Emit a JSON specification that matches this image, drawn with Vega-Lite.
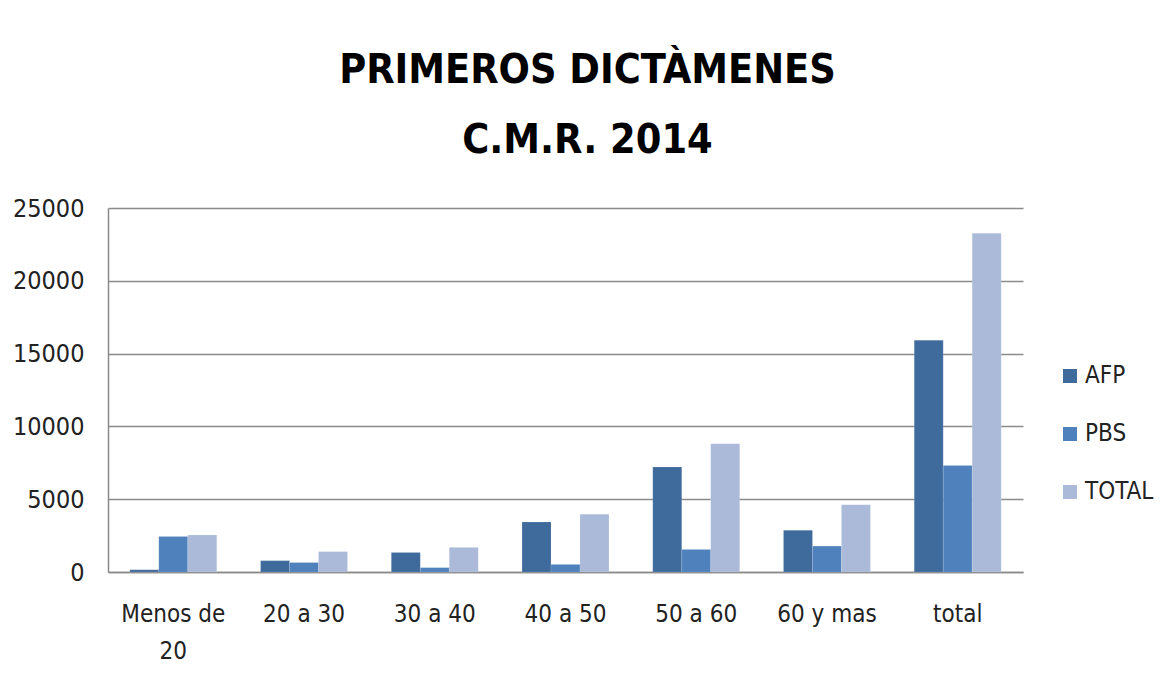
{
  "$schema": "https://vega.github.io/schema/vega-lite/v6.json",
  "autosize": {"type": "none"},
  "width": 915,
  "height": 364,
  "padding": {"left": 108, "top": 208, "right": 152, "bottom": 120},
  "background": "white",
  "title": {
    "text": ["PRIMEROS DICTÀMENES", "C.M.R. 2014"],
    "font": "Liberation Sans Narrow, DejaVu Sans Condensed, sans-serif",
    "fontSize": 41,
    "fontWeight": "bold",
    "color": "#000000",
    "anchor": "middle",
    "lineHeight": 70,
    "offset": 34,
    "dx": 22
  },
  "data": {
    "values": [
      {"grupo": "Menos de 20", "serie": "AFP", "valor": 160},
      {"grupo": "Menos de 20", "serie": "PBS", "valor": 2430},
      {"grupo": "Menos de 20", "serie": "TOTAL", "valor": 2540},
      {"grupo": "20 a 30", "serie": "AFP", "valor": 780},
      {"grupo": "20 a 30", "serie": "PBS", "valor": 650},
      {"grupo": "20 a 30", "serie": "TOTAL", "valor": 1400},
      {"grupo": "30 a 40", "serie": "AFP", "valor": 1340},
      {"grupo": "30 a 40", "serie": "PBS", "valor": 300},
      {"grupo": "30 a 40", "serie": "TOTAL", "valor": 1690},
      {"grupo": "40 a 50", "serie": "AFP", "valor": 3430},
      {"grupo": "40 a 50", "serie": "PBS", "valor": 520},
      {"grupo": "40 a 50", "serie": "TOTAL", "valor": 3970},
      {"grupo": "50 a 60", "serie": "AFP", "valor": 7210},
      {"grupo": "50 a 60", "serie": "PBS", "valor": 1550},
      {"grupo": "50 a 60", "serie": "TOTAL", "valor": 8810},
      {"grupo": "60 y mas", "serie": "AFP", "valor": 2860},
      {"grupo": "60 y mas", "serie": "PBS", "valor": 1780},
      {"grupo": "60 y mas", "serie": "TOTAL", "valor": 4620},
      {"grupo": "total", "serie": "AFP", "valor": 15920},
      {"grupo": "total", "serie": "PBS", "valor": 7320},
      {"grupo": "total", "serie": "TOTAL", "valor": 23260}
    ]
  },
  "mark": {"type": "bar", "stroke": "white", "strokeOpacity": 0.25, "strokeWidth": 0.5},
  "encoding": {
    "x": {
      "field": "grupo",
      "type": "nominal",
      "sort": null,
      "title": null,
      "scale": {"paddingInner": 0.335, "paddingOuter": 0.167},
      "axis": {
        "labelAngle": 0,
        "labelExpr": "datum.label == 'Menos de 20' ? ['Menos de', '20'] : datum.label",
        "labelFont": "Liberation Sans Narrow, DejaVu Sans Condensed, sans-serif",
        "labelFontSize": 24,
        "labelColor": "#222222",
        "labelLineHeight": 37,
        "labelPadding": 30,
        "ticks": false,
        "domainColor": "#8a8a8a",
        "domainWidth": 1.5,
        "grid": false
      }
    },
    "xOffset": {"field": "serie", "type": "nominal", "sort": ["AFP", "PBS", "TOTAL"]},
    "y": {
      "field": "valor",
      "type": "quantitative",
      "title": null,
      "scale": {"domain": [0, 25000], "nice": false},
      "axis": {
        "values": [0, 5000, 10000, 15000, 20000, 25000],
        "format": "d",
        "labelFont": "Liberation Sans Narrow, DejaVu Sans Condensed, sans-serif",
        "labelFontSize": 25,
        "labelColor": "#222222",
        "labelPadding": 24,
        "ticks": false,
        "domainColor": "#8a8a8a",
        "domainWidth": 1.5,
        "gridColor": "#8a8a8a",
        "gridWidth": 1.5
      }
    },
    "color": {
      "field": "serie",
      "type": "nominal",
      "sort": ["AFP", "PBS", "TOTAL"],
      "scale": {"domain": ["AFP", "PBS", "TOTAL"], "range": ["#3F6A9C", "#4F81BD", "#AABAD8"]},
      "legend": {
        "title": null,
        "orient": "none",
        "legendX": 950,
        "legendY": 156,
        "symbolType": "square",
        "symbolSize": 196,
        "symbolStrokeWidth": 0,
        "labelFont": "Liberation Sans Narrow, DejaVu Sans Condensed, sans-serif",
        "labelFontSize": 24,
        "labelColor": "#222222",
        "labelOffset": 3,
        "rowPadding": 34
      }
    }
  },
  "config": {"view": {"stroke": null}}
}
